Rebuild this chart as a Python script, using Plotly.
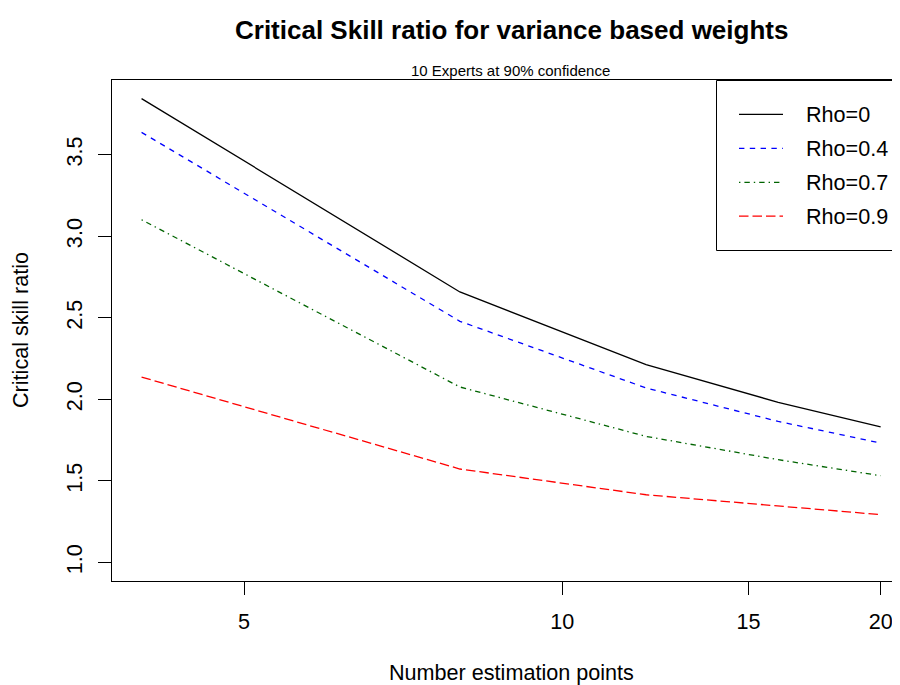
import plotly.graph_objects as go

# ---- data ----
x_points = [4, 8, 12, 16, 20]
rho_0 = [3.845, 2.659, 2.213, 1.982, 1.832]
rho_04 = [3.638, 2.479, 2.070, 1.865, 1.732]
rho_07 = [3.102, 2.076, 1.773, 1.630, 1.532]
rho_09 = [2.137, 1.573, 1.415, 1.344, 1.293]
series_names = ["Rho=0", "Rho=0.4", "Rho=0.7", "Rho=0.9"]
x_tick_vals = [5, 10, 15, 20]
x_tick_text = ["5", "10", "15", "20"]
y_tick_vals = [1.0, 1.5, 2.0, 2.5, 3.0, 3.5]
y_tick_text = ["1.0", "1.5", "2.0", "2.5", "3.0", "3.5"]

# ---- styles ----
colors = ["#000000", "#0000FF", "#006400", "#FF0000"]
dashes = ["solid", "5.4px,5.4px", "1.4px,4px,5.4px,4px", "9.5px,4px"]
FONT = "Liberation Sans, Arial, Helvetica, sans-serif"
OFF = 8  # page body margin
W, H = 900 - OFF, 685 - OFF
L, T = 112 - OFF, 80 - OFF
R = 0
B = H - (581 - OFF)
PW, PH = W - L - R, H - T - B


def px_x(p):
    return (p - OFF - L) / PW


def px_y(p):
    return (H - B - (p - OFF)) / PH


fig = go.Figure()
for name, ys, c, d in zip(series_names, [rho_0, rho_04, rho_07, rho_09], colors, dashes):
    fig.add_trace(go.Scatter(x=x_points, y=ys, mode="lines", name=name,
                             line=dict(color=c, width=1.3, dash=d), showlegend=False))

shapes = []
annotations = []
# legend box
shapes.append(dict(type="rect", xref="paper", yref="paper",
                   x0=px_x(716.5), x1=px_x(930), y0=px_y(250.5), y1=px_y(80.5),
                   line=dict(color="black", width=1), fillcolor="white", layer="above"))
row_y = [114.3, 148.3, 182.3, 216.2]
for name, c, d, ry in zip(series_names, colors, dashes, row_y):
    shapes.append(dict(type="line", xref="paper", yref="paper",
                       x0=px_x(739), x1=px_x(783), y0=px_y(ry), y1=px_y(ry),
                       line=dict(color=c, width=1.3, dash=d), layer="above"))
    annotations.append(dict(text=name, xref="paper", yref="paper", x=px_x(804), y=px_y(ry),
                            xanchor="left", yanchor="middle", showarrow=False,
                            font=dict(family=FONT, size=21.6, color="black")))

# titles
annotations.append(dict(text="<b>Critical Skill ratio for variance based weights</b>",
                        xref="paper", yref="paper", x=px_x(511), y=px_y(30),
                        xanchor="center", yanchor="middle", showarrow=False,
                        font=dict(family=FONT, size=26, color="black")))
annotations.append(dict(text="10 Experts at 90% confidence",
                        xref="paper", yref="paper", x=px_x(510), y=px_y(70.5),
                        xanchor="center", yanchor="middle", showarrow=False,
                        font=dict(family=FONT, size=15, color="black")))
annotations.append(dict(text="Number estimation points",
                        xref="paper", yref="paper", x=px_x(511), y=px_y(672.5),
                        xanchor="center", yanchor="middle", showarrow=False,
                        font=dict(family=FONT, size=21.6, color="black")))
annotations.append(dict(text="Critical skill ratio", textangle=-90,
                        xref="paper", yref="paper", x=px_x(20.5), y=px_y(330.5),
                        xanchor="center", yanchor="middle", showarrow=False,
                        font=dict(family=FONT, size=21.6, color="black")))

fig.update_layout(
    width=W, height=H,
    margin=dict(l=L, r=R, t=T, b=B, pad=0),
    paper_bgcolor="white", plot_bgcolor="white",
    font=dict(family=FONT, size=21.6, color="black"),
    shapes=shapes, annotations=annotations,
    xaxis=dict(type="log", range=[0.574101, 1.31932],
               tickvals=x_tick_vals, ticktext=x_tick_text,
               ticks="outside", ticklen=13, tickwidth=1, tickcolor="black",
               ticklabelstandoff=8,
               showline=True, linecolor="black", linewidth=1.3, mirror=True,
               showgrid=False, zeroline=False,
               tickfont=dict(family=FONT, size=21.6, color="black")),
    yaxis=dict(range=[0.886, 3.959],
               tickvals=y_tick_vals, ticktext=y_tick_text, tickangle=-90,
               ticks="outside", ticklen=13, tickwidth=1, tickcolor="black",
               ticklabelstandoff=7,
               showline=True, linecolor="black", linewidth=1.3, mirror=False,
               showgrid=False, zeroline=False,
               tickfont=dict(family=FONT, size=21.6, color="black")),
)

fig.write_html("out.html")
